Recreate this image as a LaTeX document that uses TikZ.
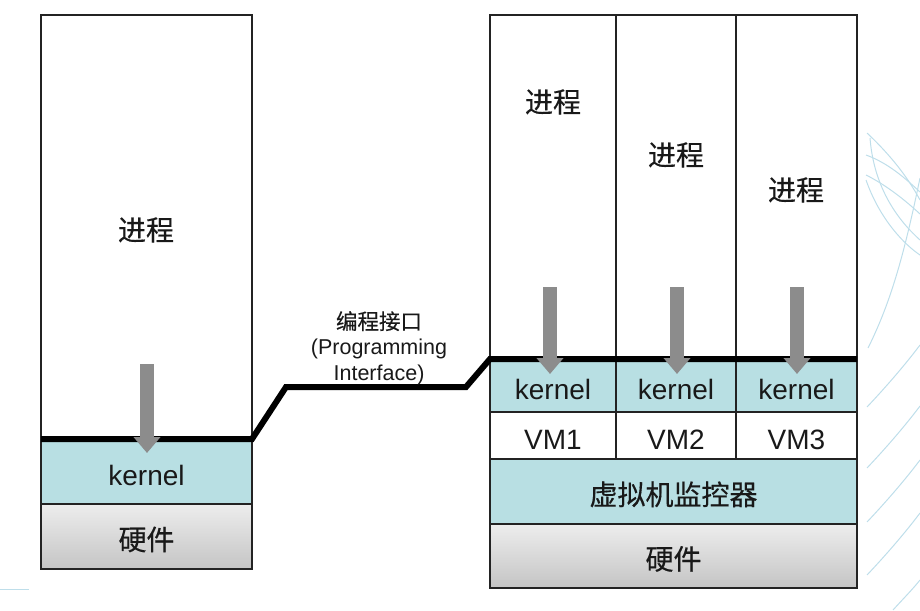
\documentclass[tikz,border=0pt]{standalone}
\usepackage{fontspec}
\setmainfont{Liberation Sans}
\newfontfamily\cjk[FakeBold=0.4]{Noto Sans CJK SC}
\usetikzlibrary{arrows.meta}
\definecolor{kblue}{RGB}{184,223,227}
\definecolor{edge}{RGB}{35,35,35}
\definecolor{arrgray}{RGB}{140,140,140}
\definecolor{deco}{RGB}{190,222,234}
\definecolor{txt}{RGB}{25,25,25}
\begin{document}
\begin{tikzpicture}[x=1pt,y=-1pt,
  box/.style={draw=edge, line width=1.6pt, anchor=north west, inner sep=0pt, outer sep=0pt, text=txt, font=\fontsize{28}{30}\selectfont, text height=27pt, text depth=0pt},
  kbox/.style={box, fill=kblue},
  hwbox/.style={box, top color=white!93!black, bottom color=white!77!black},
  lbl/.style={text=txt, font=\cjk\fontsize{28}{30}\selectfont, inner sep=0pt},
  downarrow/.style={draw=arrgray, line width=14pt, -{Triangle[width=26pt,length=16pt]}},
  thick line/.style={line width=6pt, black},
  decoline/.style={draw=deco, line width=1pt}
]
\useasboundingbox (0,0) rectangle (920,610);
% background decoration
\draw[decoline] (0,589) -- (29,589);
\draw[decoline] (867,133) .. controls (885,150) and (905,172) .. (920,200);
\draw[decoline] (866,155) .. controls (888,163) and (905,178) .. (920,192);
\draw[decoline] (866,175) .. controls (886,185) and (905,200) .. (920,214);
\draw[decoline] (870,138) .. controls (874,190) and (900,222) .. (920,240);
\draw[decoline] (866,180) .. controls (880,220) and (905,245) .. (920,255);
\draw[decoline] (920,178) .. controls (905,250) and (892,300) .. (868,348);
\draw[decoline] (867,407) .. controls (885,388) and (905,365) .. (920,345);
\draw[decoline] (867,468) .. controls (885,449) and (905,426) .. (920,406);
\draw[decoline] (867,522) .. controls (885,503) and (905,480) .. (920,460);
\draw[decoline] (867,575) .. controls (885,556) and (905,533) .. (920,513);
\draw[decoline] (893,610) .. controls (902,600) and (912,590) .. (920,580);

% left stack
\node[box, minimum width=211pt, minimum height=424pt] (lproc) at (41,15) {};
\node[kbox, minimum width=211pt, minimum height=65pt] (lkern) at (41,439) {kernel};
\node[hwbox, minimum width=211pt, minimum height=65pt] (lhw) at (41,504) {\cjk 硬件};
\node[lbl] (lproct) at (146,230) {进程};

% right stack
\node[box, minimum width=126pt, minimum height=344pt] (rp1) at (490,15) {};
\node[box, minimum width=120pt, minimum height=344pt] (rp2) at (616,15) {};
\node[box, minimum width=121pt, minimum height=344pt] (rp3) at (736,15) {};
\node[lbl] (rp1t) at (553,102) {进程};
\node[lbl] (rp2t) at (676,155) {进程};
\node[lbl] (rp3t) at (796,190) {进程};
\node[kbox, minimum width=126pt, minimum height=53pt] (rk1) at (490,359) {kernel};
\node[kbox, minimum width=120pt, minimum height=53pt] (rk2) at (616,359) {kernel};
\node[kbox, minimum width=121pt, minimum height=53pt] (rk3) at (736,359) {kernel};
\node[box, minimum width=126pt, minimum height=47pt] (vm1) at (490,412) {VM1};
\node[box, minimum width=120pt, minimum height=47pt] (vm2) at (616,412) {VM2};
\node[box, minimum width=121pt, minimum height=47pt] (vm3) at (736,412) {VM3};
\node[kbox, minimum width=367pt, minimum height=65pt] (hyp) at (490,459) {\cjk 虚拟机监控器};
\node[hwbox, minimum width=367pt, minimum height=64pt] (rhw) at (490,524) {\cjk 硬件};

% programming interface line
\coordinate (b1) at (286,387);
\coordinate (b2) at (466,387);
\draw[thick line] (lkern.north west) -- (lkern.north east) -- (b1) -- (b2) -- (rk1.north west) -- (rk3.north east);
\node[text=txt, align=center, inner sep=0pt, font=\fontsize{21.5}{25.5}\selectfont] (api) at (379,348)
  {{\cjk 编程接口}\\(Programming\\Interface)};

% arrows
\coordinate (la0) at (147,364); \coordinate (la1) at (147,453);
\coordinate (ra10) at (550,287); \coordinate (ra11) at (550,374);
\coordinate (ra20) at (677,287); \coordinate (ra21) at (677,374);
\coordinate (ra30) at (797,287); \coordinate (ra31) at (797,374);
\draw[downarrow] (la0) -- (la1);
\draw[downarrow] (ra10) -- (ra11);
\draw[downarrow] (ra20) -- (ra21);
\draw[downarrow] (ra30) -- (ra31);
\end{tikzpicture}
\end{document}
